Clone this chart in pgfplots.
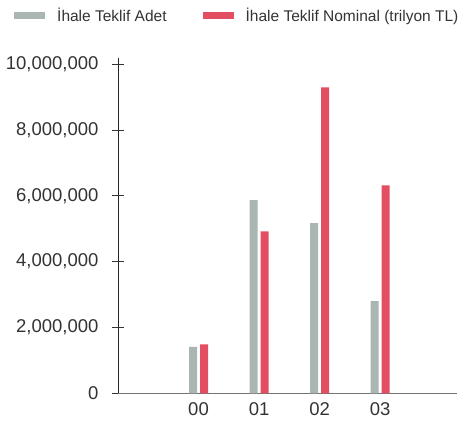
\documentclass[border=0pt]{standalone}
\usepackage{fontspec}
\setmainfont{Liberation Sans}
\usepackage{pgfplots}
\pgfplotsset{compat=1.18}
\definecolor{adet}{HTML}{A9B6B2}
\definecolor{nom}{HTML}{E34E63}
\definecolor{txt}{HTML}{333333}
\begin{document}
\begin{tikzpicture}
\useasboundingbox (-118pt,-27.7pt) rectangle (344pt,393.3pt);
\begin{axis}[
  at={(0,0)}, anchor=south west, scale only axis,
  width=339pt, height=335pt,
  xmin=-1.33, xmax=4.27, ymin=0, ymax=10.18e6,
  axis x line=bottom, axis y line=left,
  axis line style={-},
  x axis line style={black!55, line width=0.9pt},
  y axis line style={black!85, line width=0.9pt},
  xtick={0,1,2,3}, xticklabels={00,01,02,03},
  x tick style={draw=none},
  ytick={0,2000000,4000000,6000000,8000000,10000000},
  y tick style={black!80, line width=0.9pt},
  tick align=center, major tick length=12pt,
  scaled y ticks=false,
  /pgf/number format/.cd, fixed, 1000 sep={,}, assume math mode=true,
  /pgfplots/.cd,
  ticklabel style={font=\fontsize{18.5}{21}\selectfont, text=txt},
  yticklabel style={xshift=-10pt},
  legend style={at={(axis description cs:-0.3068,1.1278)}, anchor=west,
    draw=none, fill=none, inner sep=0pt,
    nodes={inner xsep=0pt, inner ysep=2pt},
    font=\fontsize{15.5}{18}\selectfont, text=txt,
    /tikz/every odd column/.append style={column sep=12pt},
    /tikz/every even column/.append style={column sep=36pt}},
  legend columns=2,
]
\addplot[ybar, bar width=8pt, bar shift=-5.5pt, fill=adet, draw=none,
  legend image code/.code={\fill[adet] (0pt,-3.2pt) rectangle (31pt,3.2pt);}]
  coordinates {(0,1410000) (1,5870000) (2,5170000) (3,2800000)};
\addlegendentry{İhale Teklif Adet}
\addplot[ybar, bar width=8pt, bar shift=5.5pt, fill=nom, draw=none,
  legend image code/.code={\fill[nom] (0pt,-3.2pt) rectangle (31pt,3.2pt);}]
  coordinates {(0,1490000) (1,4920000) (2,9300000) (3,6320000)};
\addlegendentry{İhale Teklif Nominal (trilyon TL)}
\end{axis}
\end{tikzpicture}
\end{document}
